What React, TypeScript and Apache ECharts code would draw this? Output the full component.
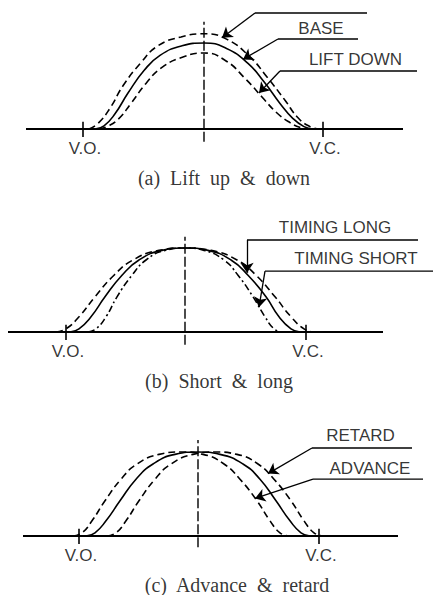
import React, { useEffect, useRef } from "react";
import * as echarts from "echarts";

// x: cam angle measured from valve opening (V.O.), deg; y: valve lift, mm

// ---- Panel (a) Lift up & down ----
const liftUpAngle = [6, 15, 27, 40, 58, 75, 98, 121, 144, 167, 184, 202, 215, 227, 236];
const liftUpLift = [0, 0.7, 2.6, 5.4, 8.3, 10.4, 11.5, 11.9, 11.2, 9.0, 6.5, 3.6, 1.4, 0.3, 0];
const liftBaseAngle = [12, 21, 32, 45, 61, 77, 99, 121, 143, 165, 181, 197, 210, 221, 230];
const liftBaseLift = [0, 0.4, 1.9, 4.5, 7.3, 9.2, 10.4, 10.75, 10.1, 8.2, 5.9, 3.2, 1.3, 0.3, 0];
const liftDownAngle = [16, 24, 35, 48, 63, 79, 100, 121, 142, 163, 179, 194, 207, 218, 226];
const liftDownLift = [0, 0.3, 1.2, 3.2, 5.7, 7.7, 9.0, 9.5, 8.6, 6.2, 4.0, 2.0, 0.8, 0.15, 0];

// ---- Panel (b) Short & long ----
const timingLongAngle = [-10, 0, 13, 29, 48, 67, 93, 119, 145, 171, 190, 209, 225, 238, 248];
const timingBaseAngle = [4, 13, 25, 39, 56, 73, 96, 119, 142, 165, 182, 200, 213, 225, 234];
const timingShortAngle = [22, 30, 40, 51, 66, 80, 99, 119, 138, 158, 172, 187, 199, 208, 216];
const timingLift = [0, 0.4, 1.9, 4.4, 7.1, 9.0, 10.2, 10.5, 10.2, 9.0, 7.1, 4.4, 1.9, 0.4, 0];

// ---- Panel (c) Advance & retard ----
const advanceAngle = [-6, 3, 13, 26, 42, 58, 80, 102, 124, 145, 161, 178, 191, 201, 210];
const phaseBaseAngle = [7, 16, 27, 41, 57, 74, 96, 119, 141, 164, 181, 197, 211, 222, 231];
const retardAngle = [28, 37, 47, 60, 76, 92, 114, 136, 158, 179, 195, 212, 225, 235, 244];
const phaseLift = [0, 0.4, 1.9, 4.4, 7.1, 9.0, 10.2, 10.5, 10.2, 9.0, 7.1, 4.4, 1.9, 0.4, 0];

// valve events (tick positions and labels)
const valveEventAngles = [0, 240];
const valveEventLabels = ["V.O.", "V.C."];

const captions = ["(a)  Lift  up  &  down", "(b)  Short  &  long", "(c)  Advance  &  retard"];
const curveLabels = [
  ["BASE", "LIFT DOWN"],
  ["TIMING LONG", "TIMING SHORT"],
  ["RETARD", "ADVANCE"],
];

const DASH = [7, 4];
const DASH_DOT = [7, 3, 2, 3];
const CENTER_DASH = [10, 3];
const SANS = "'Liberation Sans', Arial, sans-serif";
const SERIF = "'Liberation Serif', 'Times New Roman', serif";

const panels = [
  {
    top: 1, xMin: -83, xMax: 350, baseline: [-57, 320], center: 121, centerSpan: [-1.6, 13.4],
    curves: [
      { x: liftUpAngle, y: liftUpLift, dash: DASH },
      { x: liftBaseAngle, y: liftBaseLift, dash: "solid" },
      { x: liftDownAngle, y: liftDownLift, dash: DASH },
    ],
    leaders: [
      { from: 284, to: 172, y: 14.5, tip: [139, 11.4] },
      { from: 275, to: 195, y: 11.25, tip: [160, 8.7] },
      { from: 334, to: 197, y: 7.25, tip: [176, 4.5] },
    ],
    labels: [[238, 12.6], [272.5, 8.75]],
    caption: 141,
  },
  {
    top: 204, xMin: -66, xMax: 367, baseline: [-58, 317], center: 119, centerSpan: [-1.6, 11.9],
    curves: [
      { x: timingLongAngle, y: timingLift, dash: DASH },
      { x: timingBaseAngle, y: timingLift, dash: "solid" },
      { x: timingShortAngle, y: timingLift, dash: DASH_DOT },
    ],
    leaders: [
      { from: 352, to: 181, y: 11.5, tip: [181, 7.4] },
      { from: 367, to: 199, y: 7.6, tip: [193, 3.1] },
    ],
    labels: [[269, 13.1], [290, 9.25]],
    caption: 153,
  },
  {
    top: 408, xMin: -79, xMax: 354, baseline: [-56, 319], center: 119, centerSpan: [-1.4, 12],
    curves: [
      { x: advanceAngle, y: phaseLift, dash: DASH },
      { x: phaseBaseAngle, y: phaseLift, dash: "solid" },
      { x: retardAngle, y: phaseLift, dash: DASH },
    ],
    leaders: [
      { from: 333, to: 233, y: 11, tip: [189, 7.8] },
      { from: 344, to: 234, y: 7.1, tip: [176, 4.7] },
    ],
    labels: [[281.5, 12.6], [291, 8.5]],
    caption: 158,
  },
];

const zip = (xs: number[], ys: number[]) => xs.map((x, i) => [x, ys[i]]);

function buildOption() {
  const grid: any[] = [];
  const xAxis: any[] = [];
  const yAxis: any[] = [];
  const series: any[] = [];
  panels.forEach((p, i) => {
    grid.push({ left: 0, right: 0, top: p.top, height: 184 });
    xAxis.push({ type: "value", gridIndex: i, min: p.xMin, max: p.xMax, show: false });
    yAxis.push({ type: "value", gridIndex: i, min: -7, max: 16, show: false });
    const ax = { xAxisIndex: i, yAxisIndex: i };
    const seg = (data: number[][], width: number, type: any) => ({
      type: "line", ...ax, data, symbol: "none", silent: true, clip: false,
      lineStyle: { color: "#000", width, type },
    });
    series.push(seg([[p.baseline[0], 0], [p.baseline[1], 0]], 2, "solid"));
    valveEventAngles.forEach((a) => series.push(seg([[a, -1], [a, 0.9]], 1.6, "solid")));
    series.push(seg([[p.center, p.centerSpan[0]], [p.center, p.centerSpan[1]]], 1.4, CENTER_DASH));
    p.curves.forEach((c) =>
      series.push({
        type: "line", ...ax, data: zip(c.x, c.y), smooth: true, symbol: "none", silent: true,
        lineStyle: { color: "#000", width: 1.6, type: c.dash },
      })
    );
    p.leaders.forEach((l) =>
      series.push({
        ...seg([[l.from, l.y], [l.to, l.y]], 1.3, "solid"),
        markLine: {
          silent: true, symbol: ["none", "arrow"], symbolSize: 10,
          label: { show: false }, emphasis: { disabled: true },
          lineStyle: { color: "#000", width: 1.3, type: "solid" },
          data: [[{ coord: [l.to, l.y] }, { coord: l.tip }]],
        },
      })
    );
    const texts: any[] = [];
    curveLabels[i].forEach((t, k) => texts.push({ value: p.labels[k], name: t }));
    valveEventLabels.forEach((t, k) =>
      texts.push({ value: [valveEventAngles[k], -2.4], name: t, label: { offset: [2, 0] } })
    );
    texts.push({
      value: [p.caption, -6.1], name: captions[i],
      label: { fontFamily: SERIF, fontSize: 20 },
    });
    series.push({
      type: "scatter", ...ax, symbolSize: 1, silent: true,
      itemStyle: { color: "rgba(0,0,0,0)" },
      label: {
        show: true, position: "inside", formatter: "{b}", color: "#000",
        fontFamily: SANS, fontSize: 17, align: "center", verticalAlign: "middle",
      },
      data: texts,
    });
  });
  return { animation: false, backgroundColor: "#fff", grid, xAxis, yAxis, series };
}

export default function App() {
  const ref = useRef<HTMLDivElement>(null);
  useEffect(() => {
    if (!ref.current) return;
    const chart = echarts.init(ref.current, null, { renderer: "svg" });
    chart.setOption(buildOption() as any);
    return () => chart.dispose();
  }, []);
  return (
    <div
      ref={ref}
      style={{ position: "fixed", left: 0, top: 0, width: 433, height: 595, background: "#fff" }}
    />
  );
}
